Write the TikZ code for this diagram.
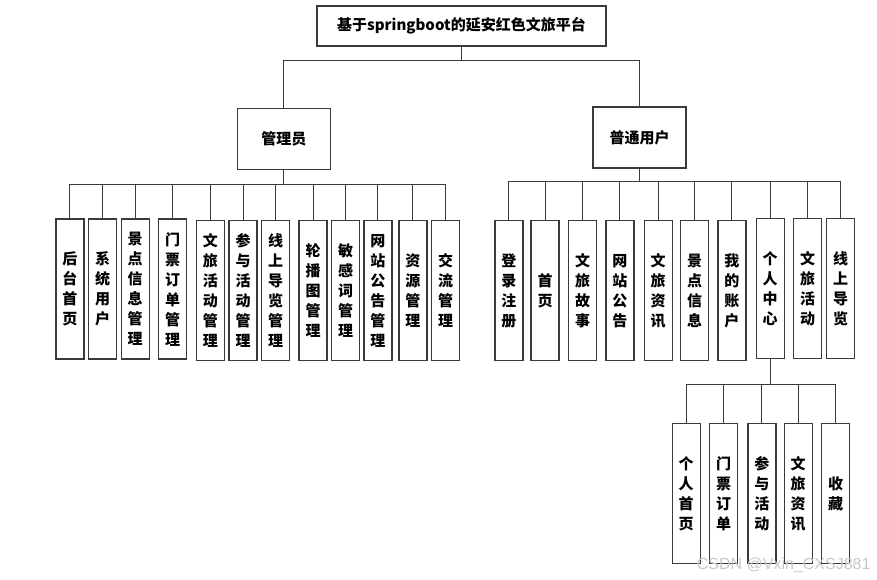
\documentclass[tikz,border=0pt]{standalone}
\usepackage{fontspec}
\newfontfamily\cjk{Noto Sans CJK SC}
\newfontfamily\wmfont{Liberation Sans}
\usepackage{xcolor}
\definecolor{cLine}{HTML}{3A3A3A}
\definecolor{cMark}{HTML}{C8C8C8}
\usetikzlibrary{positioning}
\tikzset{
  node-box/.style={draw=cLine,line width=1.2pt,inner sep=0pt,align=center,
    font=\cjk\bfseries\fontsize{15}{20}\selectfont},
  node-root/.style={node-box,minimum width=289pt,minimum height=40pt},
  node-role/.style={node-box,minimum width=93pt,minimum height=61pt},
  % 竖排功能框
  node-item/.style={node-box,minimum width=28pt,minimum height=140pt},
  link/.style={draw=cLine,line width=1pt},
}

\begin{document}
\begin{tikzpicture}[x=1pt,y=-1pt]
  \fill[white] (0,0) rectangle (877,580);
  \useasboundingbox (0,0) rectangle (877,580);

  \node[node-root] (root) at (461.5,26) {基于springboot的延安红色文旅平台};
  \node[node-role] (adm) at (283.8,138.7) {管理员};
  \node[node-role] (usr) at (639.5,137.5) {普通用户};

  \coordinate (busTop) at (461.5,61);
  \coordinate (busAdm) at (283.8,184);
  \coordinate (busUsr) at (639.5,181);
  \coordinate (busPc)  at (770.2,384);

  % 管理员
  \node[node-item] (a1)  at (69.9,289)    {后\\台\\首\\页};
  \node[node-item] (a2)  at (102.5,289)   {系\\统\\用\\户};
  \node[node-item] (a3)  at (135.2,289)   {景\\点\\信\\息\\管\\理};
  \node[node-item] (a4)  at (172.7,289)   {门\\票\\订\\单\\管\\理};
  \node[node-item] (a5)  at (210.4,290.7) {文\\旅\\活\\动\\管\\理};
  \node[node-item] (a6)  at (243,290.7)   {参\\与\\活\\动\\管\\理};
  \node[node-item] (a7)  at (275.7,290.7) {线\\上\\导\\览\\管\\理};
  \node[node-item] (a8)  at (313,290.7)   {轮\\播\\图\\管\\理};
  \node[node-item] (a9)  at (345.5,290.7) {敏\\感\\词\\管\\理};
  \node[node-item] (a10) at (377.9,290.7) {网\\站\\公\\告\\管\\理};
  \node[node-item] (a11) at (412.9,290.7) {资\\源\\管\\理};
  \node[node-item] (a12) at (445.5,290.7) {交\\流\\管\\理};

  % 普通用户
  \node[node-item] (u1)  at (508.9,290.7) {登\\录\\注\\册};
  \node[node-item] (u2)  at (545,290.7)   {首\\页};
  \node[node-item] (u3)  at (582.5,290.7) {文\\旅\\故\\事};
  \node[node-item] (u4)  at (619.9,290.7) {网\\站\\公\\告};
  \node[node-item] (u5)  at (658.2,290.7) {文\\旅\\资\\讯};
  \node[node-item] (u6)  at (694.5,290.7) {景\\点\\信\\息};
  \node[node-item] (u7)  at (731.9,290.7) {我\\的\\账\\户};
  \node[node-item] (u8)  at (770.2,288.5) {个\\人\\中\\心};
  \node[node-item] (u9)  at (807.5,288.5) {文\\旅\\活\\动};
  \node[node-item] (u10) at (840.5,288.5) {线\\上\\导\\览};

  % 个人中心
  \node[node-item] (p1) at (686.2,493.7) {个\\人\\首\\页};
  \node[node-item] (p2) at (723.5,493.7) {门\\票\\订\\单};
  \node[node-item] (p3) at (761.9,493.7) {参\\与\\活\\动};
  \node[node-item] (p4) at (798.2,493.7) {文\\旅\\资\\讯};
  \node[node-item] (p5) at (835.5,493.7) {收\\藏};

  \draw[link] (root) -- (busTop);
  \draw[link] (busTop) -| (adm);
  \draw[link] (busTop) -| (usr);

  \draw[link] (adm) -- (busAdm);
  \foreach \n in {a1,a2,a3,a4,a5,a6,a7,a8,a9,a10,a11,a12}
    \draw[link] (busAdm) -| (\n);

  \draw[link] (usr) -- (busUsr);
  \foreach \n in {u1,u2,u3,u4,u5,u6,u7,u8,u9,u10}
    \draw[link] (busUsr) -| (\n);

  \draw[link] (u8) -- (busPc);
  \foreach \n in {p1,p2,p3,p4,p5}
    \draw[link] (busPc) -| (\n);

  \node[anchor=east,text=cMark,font=\wmfont\fontsize{16}{16}\selectfont]
    (mark) at (874,565) {CSDN @Vxin\_CXSJ881};
\end{tikzpicture}
\end{document}
